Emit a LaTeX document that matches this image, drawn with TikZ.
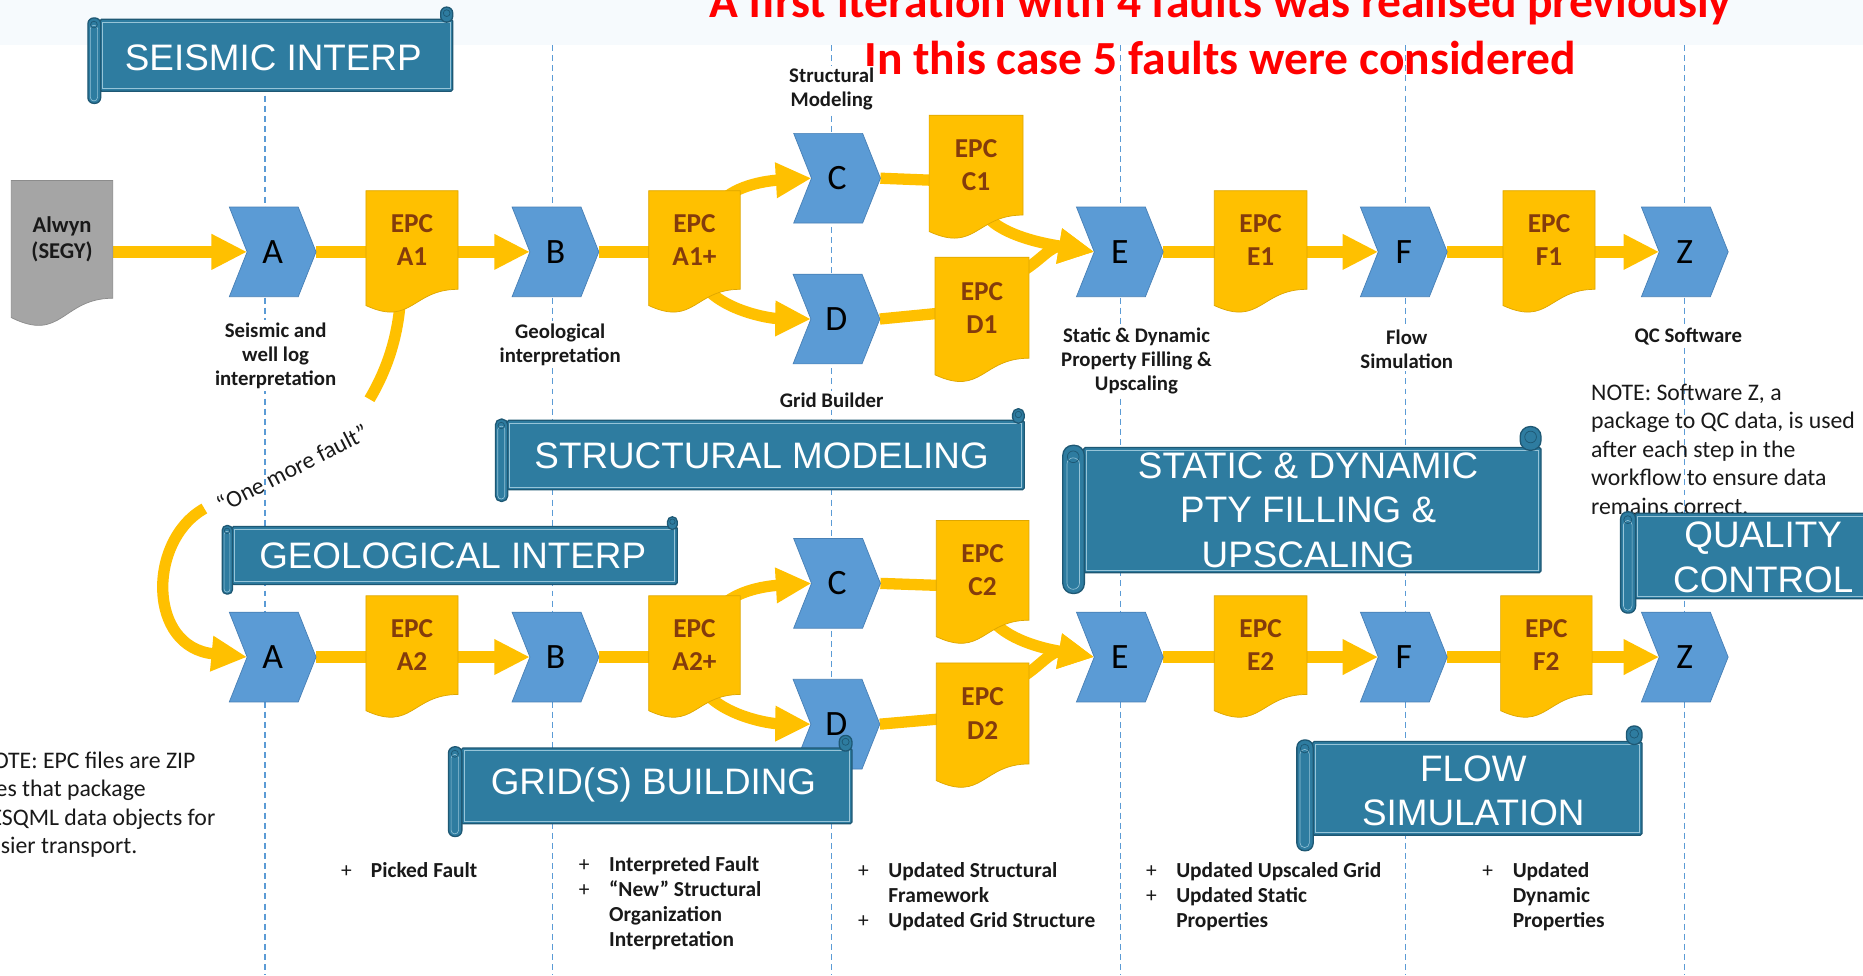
\documentclass[tikz,border=0pt]{standalone}
\usepackage{fontspec}
\setmainfont{Carlito}
\newfontfamily\arialf{Liberation Sans}
\usetikzlibrary{arrows.meta,calc}
\definecolor{chevblue}{RGB}{91,155,213}
\definecolor{chevedge}{RGB}{72,128,182}
\definecolor{docyel}{RGB}{255,192,0}
\definecolor{docedge}{RGB}{222,166,0}
\definecolor{epcbrown}{RGB}{132,60,12}
\definecolor{alwgray}{RGB}{165,165,165}
\definecolor{alwedge}{RGB}{140,140,140}
\definecolor{bncol}{RGB}{46,124,160}
\definecolor{bnedge}{RGB}{30,88,116}
\definecolor{bnlight}{RGB}{150,196,216}
\definecolor{dashblue}{RGB}{91,155,213}
\definecolor{bandcol}{RGB}{246,250,253}
\definecolor{txt}{RGB}{25,25,25}
\pgfdeclarelayer{back}
\pgfdeclarelayer{mid}
\pgfdeclarelayer{front}
\pgfsetlayers{back,mid,main,front}
\tikzset{
  flow/.style={draw=docyel, line width=9.5pt},
  flowarrow/.style={flow, -{Triangle[length=30pt,width=28pt]}},
  chevbox/.style={inner sep=0pt, outer sep=0pt, minimum width=73pt, minimum height=75.5pt},
  chevshape/.style={fill=chevblue, draw=chevedge, line width=0.6pt},
  chevtext/.style={inner sep=0pt, text=black, font=\fontsize{30}{36}\selectfont},
  docbox/.style={inner sep=0pt, outer sep=0pt},
  epcshape/.style={fill=docyel, draw=docedge, line width=0.6pt},
  alwshape/.style={fill=alwgray, draw=alwedge, line width=0.6pt},
  epctext/.style={inner sep=0pt, align=center, text=epcbrown, font=\bfseries\fontsize{23}{28}\selectfont},
  alwtext/.style={inner sep=0pt, align=center, text=txt, font=\bfseries\fontsize{19}{22}\selectfont},
  lbl/.style={fill=white, inner sep=2pt, align=center, text=txt, font=\bfseries\fontsize{17.5}{20.3}\selectfont},
  bullets/.style={anchor=north west, inner sep=0pt, text=txt, font=\bfseries\fontsize{18}{21}\selectfont},
  notetext/.style={anchor=north west, inner sep=0pt, text=txt, font=\fontsize{20}{24}\selectfont},
  titletext/.style={anchor=base, inner sep=0pt, text=red, font=\bfseries\fontsize{40}{48}\selectfont},
  dashline/.style={draw=dashblue, line width=1.1pt, dash pattern=on 5pt off 3.5pt},
  bnbody/.style={fill=bncol, draw=bnedge, line width=1.1pt, inner sep=0pt, outer sep=0pt, rounded corners=1.5pt},
  bnshape/.style={fill=bncol, draw=bnedge, line width=1.1pt},
  bntext/.style={inner sep=0pt, align=center, text=white, font=\arialf\fontsize{31}{37.5}\selectfont},
  omftext/.style={inner sep=0pt, text=txt, font=\fontsize{20}{24}\selectfont},
}
% chevron: name, cx, cy, letter
\newcommand{\mkchev}[4]{%
  \node[chevbox] (#1) at (#2,#3) {};
  \path[chevshape] (#1.north west) -- ($(#1.north east)+(-15,0)$) -- (#1.east) -- ($(#1.south east)+(-15,0)$) -- (#1.south west) -- ($(#1.west)+(15,0)$) -- cycle;
  \node[chevtext] (#1-t) at (#1.center) {#4};
}
% document: name, cx, cy, w, flat h, full h, style, text
\newcommand{\mkdoc}[8]{%
  \node[docbox, minimum width=#4pt, minimum height=#5pt] (#1) at (#2,#3) {};
  \path[#7] (#1.north west) -- (#1.north east) -- (#1.south east) .. controls (#1.south) and ($(#1.south)+(0,0.305*#6)$) .. ($(#1.south west)+(0,0.132*#6)$) -- cycle;
  \node[#7text] (#1-t) at (#1.center) {#8};
}
\tikzset{epcshapetext/.style={epctext}, alwshapetext/.style={alwtext}}
% banner: name, x0, y0, x1, y1
\newcommand{\mkbanner}[5]{%
  \pgfmathsetmacro\bch{(#5-#3)/8}%
  \pgfmathsetmacro\bw{#4-#2-\bch}%
  \pgfmathsetmacro\bh{#5-#3-2*\bch}%
  \node[bnbody, minimum width=\bw pt, minimum height=\bh pt, anchor=north west] (#1) at ({#2+\bch},{#3+\bch}) {};
  \draw[bnlight, line width=0.6pt] ($(#1.north west)+(2.3,2.3)$) rectangle ($(#1.south east)+(-2.3,-2.3)$);
  \draw[bnshape, rounded corners={0.48*\bch*1pt}] ($(#1.north west)+(-\bch,-0.1*\bch)$) rectangle ($(#1.south west)+(0.6,\bch)$);
  \draw[bnlight, line width=0.5pt, rounded corners={0.3*\bch*1pt}] ($(#1.north west)+(-0.8*\bch,0.5*\bch)$) rectangle ($(#1.south west)+(-0.2*\bch,0.8*\bch)$);
  \draw[bnedge, line width=0.6pt] ($(#1.north west)+(-0.5*\bch,0.45*\bch)$) circle[radius={0.28*\bch*1pt}];
  \draw[bnshape, rounded corners={0.48*\bch*1pt}] ($(#1.north east)+(-\bch,2.5)$) rectangle ($(#1.north east)+(0,-\bch)$);
  \draw[bnedge, line width=0.6pt] ($(#1.north east)+(-0.5*\bch,-0.5*\bch)$) circle[radius={0.28*\bch*1pt}];
}
\begin{document}
\begin{tikzpicture}[x=1pt,y=-1pt]
\useasboundingbox (0,0) rectangle (1568,821);
% ---------- background layer ----------
\begin{pgfonlayer}{back}
\fill[white] (0,0) rectangle (1568,821);
\fill[bandcol] (0,0) rectangle (1568,38);
\node[titletext] (title1) at (1027,15) {A first iteration with 4 faults was realised previously};
\node[titletext] (title2) at (1027,63) {In this case 5 faults were considered};
\foreach \x/\n in {223/a,465/b,700/c,943/e,1183/f,1418/z}{
  \coordinate (dtop-\n) at (\x,38);
  \coordinate (dbot-\n) at (\x,821);
  \draw[dashline] (dtop-\n) -- (dbot-\n);
}
\node[lbl] (lblstruct) at (700,75) {Structural\\Modeling};
\node[lbl] (lblA) at (232,299.5) {Seismic and\\well log\\interpretation};
\node[lbl] (lblB) at (471.5,290) {Geological\\interpretation};
\node[lbl] (lblgrid) at (700,337) {Grid Builder};
\node[lbl] (lblE) at (956.5,304) {Static \& Dynamic\\Property Filling \&\\Upscaling};
\node[lbl] (lblF) at (1184,294) {Flow\\Simulation};
\node[lbl] (lblZ) at (1421,283.5) {QC Software};
\end{pgfonlayer}
% ---------- shapes ----------
\mkdoc{Alwyn}{52.25}{201.5}{85.5}{99}{123.5}{alwshape}{Alwyn\\(SEGY)}
\mkchev{A1}{229.5}{212}{A}
\mkdoc{EA1}{346.75}{202}{77.5}{83}{103.5}{epcshape}{EPC\\A1}
\mkchev{B1}{467.5}{212}{B}
\mkdoc{EA1p}{584.5}{202}{77}{83}{103.5}{epcshape}{EPC\\A1+}
\mkchev{C1}{704.5}{150}{C}
\mkchev{D1}{704}{268.5}{D}
\mkdoc{EC1}{821.5}{139}{79}{84}{105}{epcshape}{EPC\\C1}
\mkdoc{ED1}{826.5}{259}{79}{85}{106}{epcshape}{EPC\\D1}
\mkchev{E1}{942.5}{212}{E}
\mkdoc{EE1}{1061}{202}{78}{83}{103.5}{epcshape}{EPC\\E1}
\mkchev{F1}{1181.5}{212}{F}
\mkdoc{EF1}{1303.75}{202}{77.5}{83}{103.5}{epcshape}{EPC\\F1}
\mkchev{Z1}{1418}{212}{Z}
% row 2
\mkchev{A2}{229.5}{553}{A}
\mkdoc{EA2}{346.75}{543}{77.5}{83}{103.5}{epcshape}{EPC\\A2}
\mkchev{B2}{467.5}{553}{B}
\mkdoc{EA2p}{584.5}{543}{77}{83}{103.5}{epcshape}{EPC\\A2+}
\mkchev{C2}{704.5}{491}{C}
\mkchev{D2}{704}{609.5}{D}
\mkdoc{EC2}{827}{480}{78}{84}{105}{epcshape}{EPC\\C2}
\mkdoc{ED2}{827}{600.5}{78}{85}{106}{epcshape}{EPC\\D2}
\mkchev{E2}{942.5}{553}{E}
\mkdoc{EE2}{1061}{543}{78}{83}{103.5}{epcshape}{EPC\\E2}
\mkchev{F2}{1181.5}{553}{F}
\mkdoc{EF2}{1301.5}{543}{77}{83}{103.5}{epcshape}{EPC\\F2}
\mkchev{Z2}{1418}{553}{Z}
% notes and bullets
\node[notetext] (noteZ) at (1339,319.7) {\begin{tabular}{@{}l@{}}NOTE: Software Z, a\\package to QC data, is used\\after each step in the\\workflow to ensure data\\remains correct.\end{tabular}};
\node[notetext] (noteEPC) at (-19,629.7) {\begin{tabular}{@{}l@{}}NOTE: EPC files are ZIP\\files that package\\RESQML data objects for\\easier transport.\end{tabular}};
\node[bullets] (bul1) at (287,723.6) {\begin{tabular}{@{}p{25pt}@{}l@{}}{\mdseries +}&Picked Fault\end{tabular}};
\node[bullets] (bul2) at (487,718.5) {\begin{tabular}{@{}p{25.5pt}@{}l@{}}{\mdseries +}&Interpreted Fault\\{\mdseries +}&“New” Structural\\&Organization\\&Interpretation\end{tabular}};
\node[bullets] (bul3) at (722,723.6) {\begin{tabular}{@{}p{25.5pt}@{}l@{}}{\mdseries +}&Updated Structural\\&Framework\\{\mdseries +}&Updated Grid Structure\end{tabular}};
\node[bullets] (bul4) at (964.5,723.6) {\begin{tabular}{@{}p{25.3pt}@{}l@{}}{\mdseries +}&Updated Upscaled Grid\\{\mdseries +}&Updated Static\\&Properties\end{tabular}};
\node[bullets] (bul5) at (1247.5,723.6) {\begin{tabular}{@{}p{25.5pt}@{}l@{}}{\mdseries +}&Updated\\&Dynamic\\&Properties\end{tabular}};
\node[omftext, rotate=27] (omf) at (246,394) {“One more fault”};
% ---------- connectors ----------
\begin{pgfonlayer}{mid}
\draw[flowarrow] (Alwyn.east |- A1.west) -- ($(A1.west)+(15,0)$);
\draw[flow] (A1.east) -- (EA1.center |- A1.east);
\draw[flowarrow] (EA1.center |- B1.west) -- ($(B1.west)+(15,0)$);
\draw[flow] (B1.east) -- (EA1p.center |- B1.east);
\draw[flowarrow] ($(EA1p.north east)+(-17,10)$) .. controls (620,155) and (648,152) .. ($(C1.west)+(15,0)$);
\draw[flowarrow] ($(EA1p.south)+(8,-3)$) .. controls (610,262) and (648,268) .. ($(D1.west)+(15,0)$);
\draw[flow] (C1.east) -- ($(EC1.west |- C1.east)+(10,2)$);
\draw[flow] (D1.east) -- ($(ED1.west)+(10,4)$);
\draw[flowarrow] ($(EC1.south)+(8,0)$) .. controls (845,200) and (885,206) .. ($(E1.west)+(15,0)$);
\draw[flowarrow] ($(ED1.north east)+(-6,12)$) .. controls (875,220) and (885,206) .. ($(E1.west)+(15,0)$);
\draw[flow] (E1.east) -- (EE1.center |- E1.east);
\draw[flowarrow] (EE1.center |- F1.west) -- ($(F1.west)+(15,0)$);
\draw[flow] (F1.east) -- (EF1.center |- F1.east);
\draw[flowarrow] (EF1.center |- Z1.west) -- ($(Z1.west)+(15,0)$);
% loop back
\coordinate (omfend) at (311,336);
\coordinate (omfstart) at (172,428);
\draw[flow] ($(EA1.south)+(-10,12)$) .. controls (334,288) and (324,314) .. (omfend);
\draw[flowarrow] (omfstart) .. controls (124,455) and (124,545) .. ($(A2.west)+(15,0)$);
% row 2
\draw[flow] (A2.east) -- (EA2.center |- A2.east);
\draw[flowarrow] (EA2.center |- B2.west) -- ($(B2.west)+(15,0)$);
\draw[flow] (B2.east) -- (EA2p.center |- B2.east);
\draw[flowarrow] ($(EA2p.north east)+(-17,10)$) .. controls (620,496) and (648,493) .. ($(C2.west)+(15,0)$);
\draw[flowarrow] ($(EA2p.south)+(8,-3)$) .. controls (610,603) and (648,609) .. ($(D2.west)+(15,0)$);
\draw[flow] (C2.east) -- ($(EC2.west |- C2.east)+(10,2)$);
\draw[flow] (D2.east) -- ($(ED2.west)+(10,4)$);
\draw[flowarrow] ($(EC2.south)+(8,0)$) .. controls (851,541) and (885,547) .. ($(E2.west)+(15,0)$);
\draw[flowarrow] ($(ED2.north east)+(-6,12)$) .. controls (875,561) and (885,547) .. ($(E2.west)+(15,0)$);
\draw[flow] (E2.east) -- (EE2.center |- E2.east);
\draw[flowarrow] (EE2.center |- F2.west) -- ($(F2.west)+(15,0)$);
\draw[flow] (F2.east) -- (EF2.center |- F2.east);
\draw[flowarrow] (EF2.center |- Z2.west) -- ($(Z2.west)+(15,0)$);
\end{pgfonlayer}
% ---------- banners ----------
\begin{pgfonlayer}{front}
\mkbanner{bnseis}{74}{6}{381}{87}
\node[bntext] (bnseis-t) at (230,49) {SEISMIC INTERP};
\mkbanner{bnstruct}{417}{344}{862}{422}
\node[bntext] (bnstruct-t) at (641,384) {STRUCTURAL MODELING};
\mkbanner{bngeo}{187}{435}{570}{500}
\node[bntext] (bngeo-t) at (381,468) {GEOLOGICAL INTERP};
\mkbanner{bngrid}{377.5}{619}{717}{704}
\node[bntext] (bngrid-t) at (550,661) {GRID(S) BUILDING};
\mkbanner{bnstatic}{894.5}{359}{1297}{499.5}
\node[bntext] (bnstatic-t) at (1101,429.5) {STATIC \& DYNAMIC\\PTY FILLING \&\\UPSCALING};
\mkbanner{bnqc}{1364}{420}{1604}{516}
\node[bntext] (bnqc-t) at (1484,469) {QUALITY\\CONTROL};
\mkbanner{bnflow}{1091.5}{611}{1382}{716}
\node[bntext] (bnflow-t) at (1240,665.5) {FLOW\\SIMULATION};
\end{pgfonlayer}
\end{tikzpicture}
\end{document}
